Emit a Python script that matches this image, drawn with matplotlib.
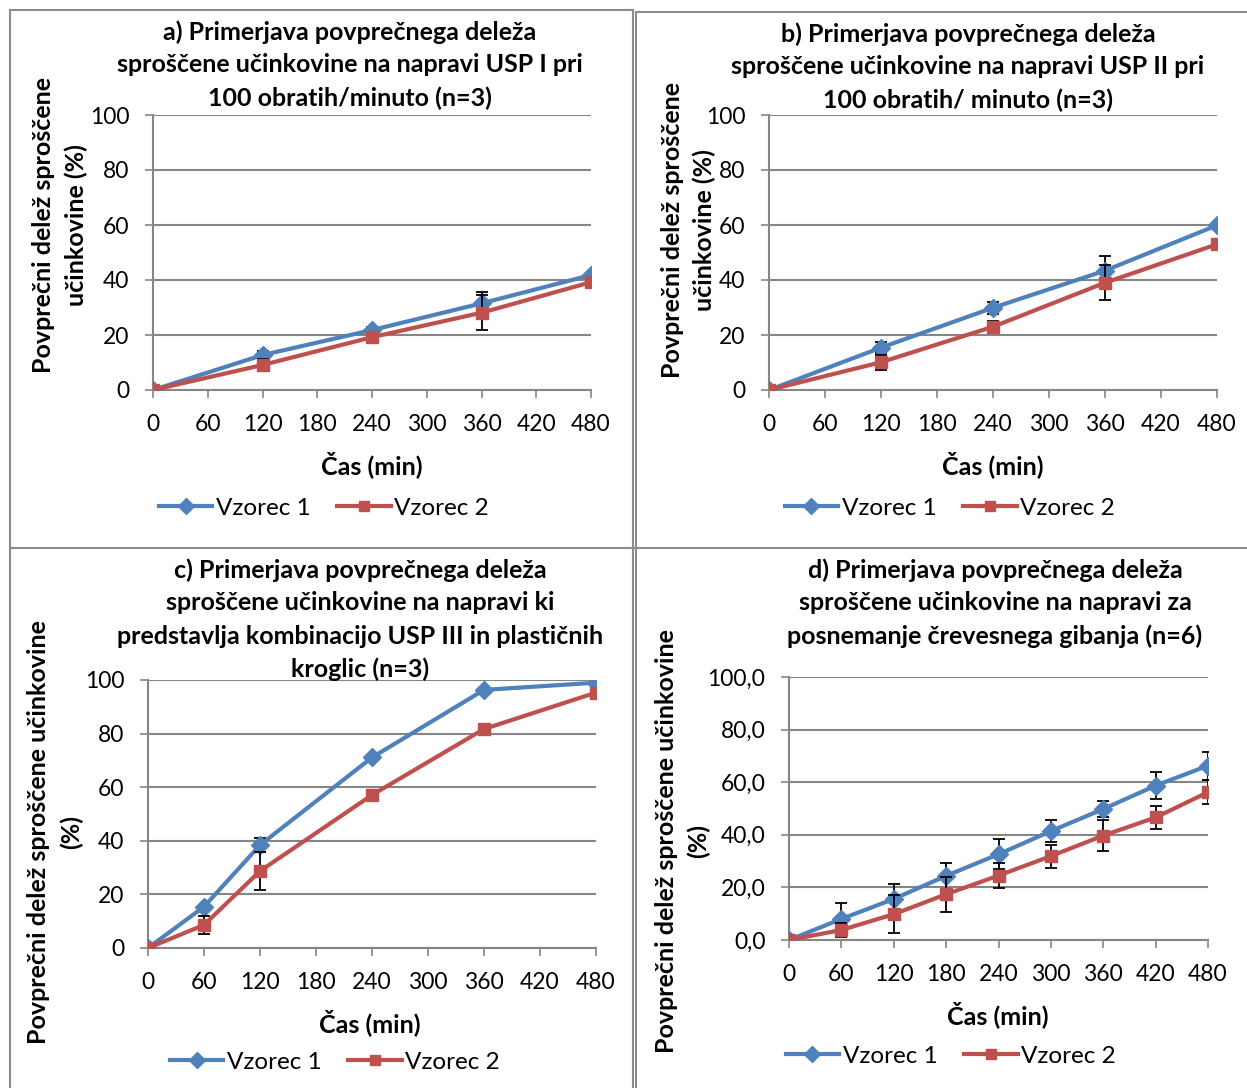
import matplotlib
matplotlib.use('Agg')
import matplotlib.pyplot as plt
from matplotlib.lines import Line2D
from matplotlib.ticker import FuncFormatter

plt.rcParams['font.family'] = ['Lato', 'DejaVu Sans']

W, H = 1247, 1088

# data
cas_ab = [0, 120, 240, 360, 480]
a_v1 = [0.0, 12.7, 21.8, 31.5, 41.8]
a_v1_err = [0.5, 1.5, 1.0, 4.3, 0.5]
a_v2 = [0.0, 9.1, 19.2, 28.1, 39.2]
a_v2_err = [0.5, 2.3, 1.2, 6.3, 0.5]

b_v1 = [0.0, 15.4, 29.9, 43.4, 59.9]
b_v1_err = [0.3, 2.0, 2.2, 5.3, 0.3]
b_v2 = [0.0, 10.1, 23.0, 39.0, 53.0]
b_v2_err = [0.3, 2.8, 2.2, 6.3, 0.3]

cas_c = [0, 60, 120, 240, 360, 480]
c_v1 = [0.0, 15.4, 38.4, 71.1, 96.3, 99.0]
c_v1_err = [0.5, 0.5, 2.5, 0.8, 0.5, 0.5]
c_v2 = [0.0, 8.6, 28.7, 57.1, 81.7, 95.3]
c_v2_err = [0.5, 3.2, 7.1, 0.5, 0.5, 0.8]

cas_d = [0, 60, 120, 180, 240, 300, 360, 420, 480]
d_v1 = [0.0, 8.0, 15.6, 24.4, 32.6, 41.4, 49.8, 58.7, 66.3]
d_v1_err = [0.3, 5.9, 5.7, 5.0, 5.7, 4.2, 3.2, 5.0, 5.3]
d_v2 = [0.0, 3.8, 9.8, 17.4, 24.5, 31.9, 39.7, 46.6, 56.2]
d_v2_err = [0.3, 2.5, 7.3, 6.6, 4.6, 4.4, 5.9, 4.4, 4.5]

titles = [
    "a) Primerjava povprečnega deleža\nsproščene učinkovine na napravi USP I pri\n100 obratih/minuto (n=3)",
    "b) Primerjava povprečnega deleža\nsproščene učinkovine na napravi USP II pri\n100 obratih/ minuto (n=3)",
    "c) Primerjava povprečnega deleža\nsproščene učinkovine na napravi ki\npredstavlja kombinacijo USP III in plastičnih\nkroglic (n=3)",
    "d) Primerjava povprečnega deleža\nsproščene učinkovine na napravi za\nposnemanje črevesnega gibanja (n=6)",
]
ylabels = [
    "Povprečni delež sproščene\nučinkovine (%)",
    "Povprečni delež sproščene\nučinkovine (%)",
    "Povprečni delež sproščene učinkovine\n(%)",
    "Povprečni delež sproščene učinkovine\n(%)",
]
xlabel = "Čas (min)"
series_names = ["Vzorec 1", "Vzorec 2"]
xticks = [0, 60, 120, 180, 240, 300, 360, 420, 480]
yticks = [0, 20, 40, 60, 80, 100]

BLUE = '#4F81BD'
RED = '#C0504D'
GRID = '#868686'


def fx(x):
    return x / W


def fy(y):
    return 1 - y / H


def make_axes(fig, x0, x1, y0, y1):
    # pixel box of plot area
    return fig.add_axes([fx(x0), fy(y1), fx(x1 - x0), (y1 - y0) / H])


fig = plt.figure(figsize=(W / 100, H / 100), dpi=100)

# panel frames
for xs, ys in [((10, 10), (10, 1088)), ((633, 633), (10, 1088)), ((636, 636), (12, 1088)),
               ((10, 633), (10, 10)), ((636, 1247), (12, 12)), ((10, 1247), (548, 548))]:
    fig.add_artist(Line2D([fx(xs[0]), fx(xs[1])], [fy(ys[0]), fy(ys[1])],
                          color='#8c8c8c', lw=1.5))

panels = [
    dict(box=(153, 591, 115, 390), x=cas_ab, s=(a_v1, a_v1_err, a_v2, a_v2_err),
         title=(350, 32), ylab=(60, 225), xlab=(372, 465), leg=(324, 508), dec=False),
    dict(box=(769, 1217, 115, 390), x=cas_ab, s=(b_v1, b_v1_err, b_v2, b_v2_err),
         title=(968, 34), ylab=(688, 230), xlab=(993, 465), leg=(950, 508), dec=False),
    dict(box=(148, 596, 680, 948), x=cas_c, s=(c_v1, c_v1_err, c_v2, c_v2_err),
         title=(360, 570), ylab=(55, 832), xlab=(370, 1023), leg=(335, 1062), dec=False),
    dict(box=(789, 1208, 677, 940), x=cas_d, s=(d_v1, d_v1_err, d_v2, d_v2_err),
         title=(995, 570), ylab=(682, 841), xlab=(998, 1015), leg=(951, 1056), dec=True),
]

for i, p in enumerate(panels):
    ax = make_axes(fig, *p['box'])
    v1, e1, v2, e2 = p['s']
    ax.errorbar(p['x'], v1, yerr=e1, color=BLUE, ecolor='black', elinewidth=1.3,
                capsize=4, capthick=1.3, lw=3, marker='D', ms=9, zorder=3,
                label=series_names[0])
    ax.errorbar(p['x'], v2, yerr=e2, color=RED, ecolor='black', elinewidth=1.3,
                capsize=4, capthick=1.3, lw=3, marker='s', ms=8.5, zorder=4,
                label=series_names[1])
    ax.set_xlim(0, 480)
    ax.set_ylim(0, 100)
    ax.set_xticks(xticks)
    ax.set_yticks(yticks)
    if p['dec']:
        ax.yaxis.set_major_formatter(FuncFormatter(lambda v, pos: f"{v:.1f}".replace('.', ',')))
    ax.grid(axis='y', color=GRID, lw=1.5)
    ax.set_axisbelow(True)
    for sp in ['top', 'right']:
        ax.spines[sp].set_visible(False)
    for sp in ['left', 'bottom']:
        ax.spines[sp].set_color(GRID)
        ax.spines[sp].set_linewidth(1.5)
    ax.tick_params(colors=GRID, length=6, width=1.2, labelsize=16.5, pad=11,
                   labelcolor='black')
    for lab in ax.get_xticklabels() + ax.get_yticklabels():
        lab.set_clip_on(False)

    # title lines centred one by one
    for k, line in enumerate(titles[i].split('\n')):
        fig.text(fx(p['title'][0]), fy(p['title'][1] + 33 * k), line, ha='center',
                 va='center', fontsize=18, fontweight='bold')
    ylines = ylabels[i].split('\n')
    for k, line in enumerate(ylines):
        off = (k - (len(ylines) - 1) / 2) * 32
        fig.text(fx(p['ylab'][0] + off), fy(p['ylab'][1]), line, ha='center',
                 va='center', rotation=90, fontsize=18, fontweight='bold')
    fig.text(fx(p['xlab'][0]), fy(p['xlab'][1]), xlabel, ha='center', va='center',
             fontsize=18, fontweight='bold')
    handles = [Line2D([], [], color=BLUE, lw=3, marker='D', ms=8),
               Line2D([], [], color=RED, lw=3, marker='s', ms=7.5)]
    fig.legend(handles, series_names, loc='center', ncol=2, frameon=False,
               bbox_to_anchor=(fx(p['leg'][0]), fy(p['leg'][1])), fontsize=17.5,
               handlelength=2.2, handletextpad=0.15, columnspacing=1.1)

fig.savefig('out.png', dpi=100)
